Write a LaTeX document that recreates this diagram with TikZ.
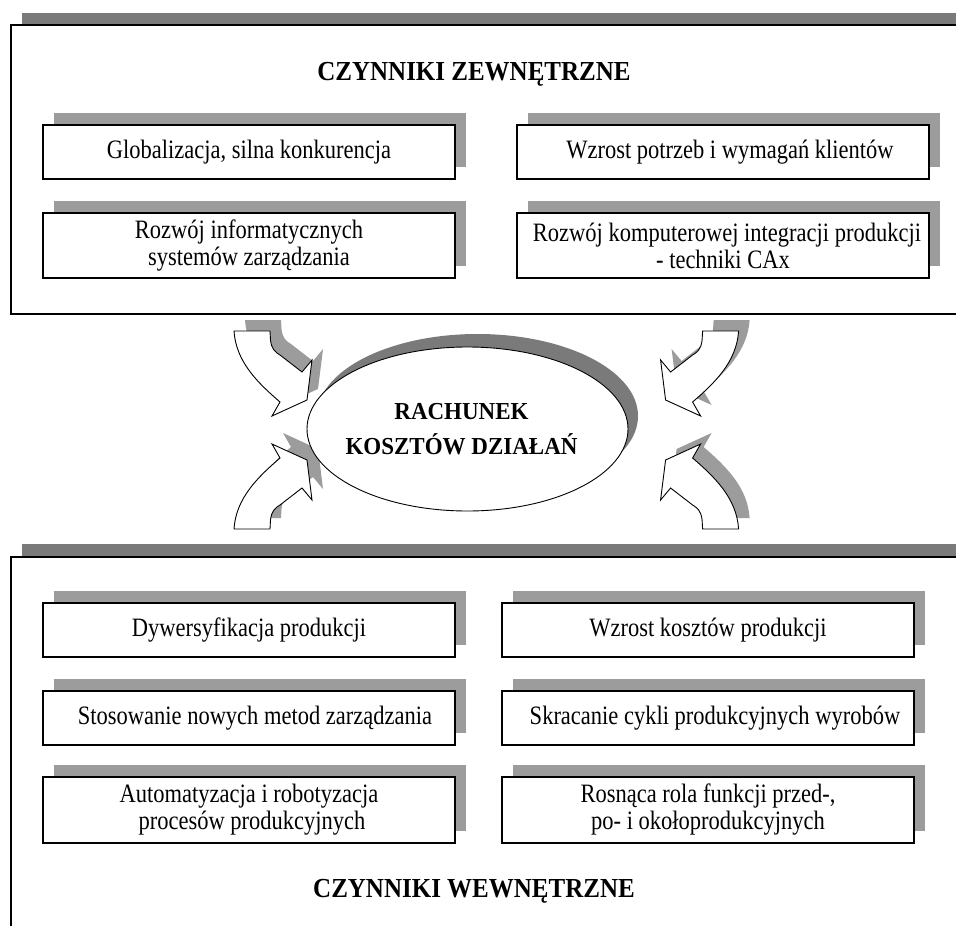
\documentclass[tikz,border=0pt]{standalone}
\usepackage{graphicx}
\usepackage{fontspec}
\setmainfont{Liberation Serif}
\usetikzlibrary{shapes.geometric,shadows}
\definecolor{darkshade}{RGB}{122,122,122}
\definecolor{lightshade}{RGB}{156,156,156}
\newcommand{\tall}[2][1.18]{\scalebox{1}[#1]{#2}}
\tikzset{
  panel/.style={draw, line width=1.6pt, fill=white},
  factor/.style={draw, line width=1.3pt, fill=white, inner sep=0pt, align=center,
    minimum width=412pt, minimum height=54pt, font=\fontsize{22.5}{27}\selectfont,
    drop shadow={shadow xshift=11pt, shadow yshift=12pt, opacity=1, fill=lightshade}},
  heading/.style={anchor=base, font=\fontsize{25}{30}\selectfont\bfseries},
  bentarrow/.style={draw, line width=0.9pt, fill=white, line join=miter}
}
% outline of the upper left bent arrow, the others are mirrored
\newcommand{\bendoutline}{(234,331) -- (270,331) -- (270.5,340) .. controls (271.5,349) and (275,352) .. (280,355) -- (302,372) -- (312,360) -- (307,400) -- (272,416) -- (280,402) .. controls (258,383) and (236,362) .. (234,331) -- cycle}
\begin{document}
\begin{tikzpicture}[x=1pt,y=-1pt]
\useasboundingbox (0,0) rectangle (956,926);
\clip (0,0) rectangle (956,926);

% external factors
\fill[darkshade] (22,13) rectangle (986,302);
\draw[panel] (11,25) rectangle (975,314);
\node[heading] (ext) at (474,80) {\tall[1.1]{CZYNNIKI ZEWNĘTRZNE}};
\node[factor] (glob) at (249,152) {\tall{Globalizacja, silna konkurencja}};
\node[factor] (klient) at (723,152) {\hspace{14pt}\tall{Wzrost potrzeb i wymagań klientów}};
\node[factor, minimum height=65pt] (info) at (249,245.5) {\tall{Rozwój informatycznych}\\\tall{systemów zarządzania}};
\node[factor, minimum height=65pt] (cax) at (723,245.5) {\hspace{8pt}\tall{Rozwój komputerowej integracji produkcji}\\\tall{- techniki CAx}};

% internal factors
\fill[darkshade] (22,544) rectangle (986,928);
\draw[panel] (11,557) rectangle (975,940);
\node[factor] (dyw) at (249,630) {\tall{Dywersyfikacja produkcji}};
\node[factor] (koszt) at (708,630) {\tall{Wzrost kosztów produkcji}};
\node[factor] (metod) at (249,718) {\hspace{12pt}\tall{Stosowanie nowych metod zarządzania}};
\node[factor] (cykl) at (708,718) {\hspace{14pt}\tall{Skracanie cykli produkcyjnych wyrobów}};
\node[factor, minimum height=66pt] (auto) at (249,810) {\tall{Automatyzacja i robotyzacja}\\\hspace{6pt}\tall{procesów produkcyjnych}};
\node[factor, minimum height=66pt] (rola) at (708,810) {\tall{Rosnąca rola funkcji przed-,}\\\tall{po- i okołoprodukcyjnych}};
\node[heading] (int) at (474,897) {\tall[1.1]{CZYNNIKI WEWNĘTRZNE}};

% bent arrows
\begin{scope}[shift={(11,-11)}]
  \fill[lightshade] \bendoutline;
  \begin{scope}[shift={(0,860)}, yscale=-1] \fill[lightshade] \bendoutline; \end{scope}
  \begin{scope}[shift={(972.6,0)}, xscale=-1] \fill[lightshade] \bendoutline; \end{scope}
  \begin{scope}[shift={(972.6,860)}, scale=-1] \fill[lightshade] \bendoutline; \end{scope}
\end{scope}
\path[bentarrow] \bendoutline;
\begin{scope}[shift={(0,860)}, yscale=-1] \path[bentarrow] \bendoutline; \end{scope}
\begin{scope}[shift={(972.6,0)}, xscale=-1] \path[bentarrow] \bendoutline; \end{scope}
\begin{scope}[shift={(972.6,860)}, scale=-1] \path[bentarrow] \bendoutline; \end{scope}

\node[ellipse, draw, fill=white, line width=0.9pt, minimum width=321pt, minimum height=164pt,
  inner sep=0pt, drop shadow={shadow xshift=10pt, shadow yshift=13pt, opacity=1, fill=darkshade}]
  (rkd) at (467.5,429) {};
\node[align=center, font=\fontsize{23}{35}\selectfont\bfseries] (rkdtext) at ([xshift=-6pt]rkd.center)
  {\tall[1.06]{RACHUNEK}\\\tall[1.06]{KOSZTÓW DZIAŁAŃ}};
\end{tikzpicture}
\end{document}
